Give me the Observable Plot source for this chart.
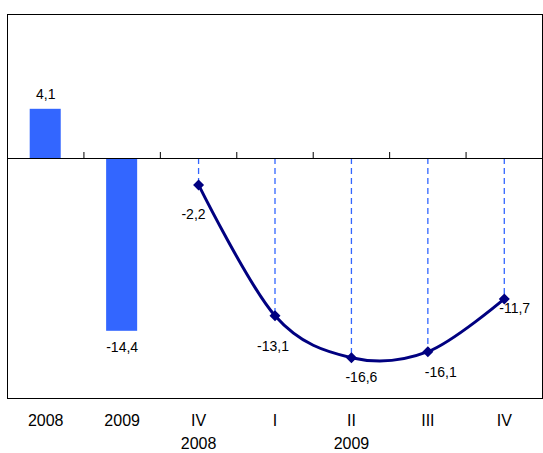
<!DOCTYPE html>
<html>
<head>
<meta charset="utf-8">
<script src="https://cdn.jsdelivr.net/npm/d3@7"></script>
<script src="https://cdn.jsdelivr.net/npm/@observablehq/plot@0.6"></script>
<style>
  html, body { margin: 0; padding: 0; background: #fff; }
  #chart { width: 543px; height: 453px; }
</style>
</head>
<body>
<div id="chart"></div>
<script>
// Data
const categories = ["2008", "2009", "IV", "I", "II", "III", "IV"];
const yearLabels = ["", "", "2008", "", "2009", "", ""];
const annualValues = [4.1, -14.4];
const quarterValues = [-2.2, -13.1, -16.6, -16.1, -11.7];

const bars = annualValues.map((v, i) => ({ i, v }));
const quarters = quarterValues.map((v, k) => ({ i: k + annualValues.length, v, k }));
const boundaries = d3.range(1, categories.length).map(i => i - 0.5);
const fmt = v => v.toFixed(1).replace(".", ",");

const barColor = "#3366ff";
const lineColor = "#000080";
const font = "Arial, 'Liberation Sans', sans-serif";

// label offsets (styling, in pixels)
const qLabelStyle = [
  { textAnchor: "end", dx: 7, dy: 30 },
  { textAnchor: "middle", dx: -2, dy: 31 },
  { textAnchor: "start", dx: -6, dy: 20 },
  { textAnchor: "start", dx: -3, dy: 21 },
  { textAnchor: "start", dx: -5, dy: 10 }
];

const labelMarks = [
  Plot.text(bars.filter(d => d.v >= 0), { x: "i", y: "v", text: d => fmt(d.v), dy: -15, fontSize: 14, fill: "black" }),
  Plot.text(bars.filter(d => d.v < 0), { x: "i", y: "v", text: d => fmt(d.v), dy: 16, fontSize: 14, fill: "black" }),
  ...qLabelStyle.map((s, k) =>
    Plot.text(quarters.filter(d => d.k === k), { x: "i", y: "v", text: d => fmt(d.v), fontSize: 14, fill: "black", ...s })
  )
];

const chart = Plot.plot({
  width: 543,
  height: 453,
  marginLeft: 7,
  marginRight: 1,
  marginTop: 14,
  marginBottom: 55,
  x: { type: "linear", domain: [-0.5, categories.length - 0.5], axis: null },
  y: { domain: [-20, 12], axis: null },
  style: { fontFamily: font, background: "white", overflow: "visible" },
  marks: [
    Plot.rect(bars, { x1: d => d.i - 0.203, x2: d => d.i + 0.203, y1: 0, y2: "v", fill: barColor }),
    Plot.ruleX(quarters, { x: "i", y1: 0, y2: "v", stroke: barColor, strokeDasharray: "6,4", strokeWidth: 1.3 }),
    Plot.ruleY([0], { stroke: "black", strokeWidth: 1 }),
    Plot.ruleX(boundaries, { x: d => d, y1: 0, y2: 0.5, stroke: "black", strokeWidth: 1 }),
    Plot.line(quarters, { x: "i", y: "v", curve: "cardinal", stroke: lineColor, strokeWidth: 3 }),
    Plot.dot(quarters, { x: "i", y: "v", symbol: "diamond2", fill: lineColor, stroke: lineColor, r: 4 }),
    ...labelMarks,
    Plot.frame({ stroke: "black", strokeWidth: 1 }),
    Plot.axisX(categories.map((c, i) => i), {
      tickFormat: i => categories[i], tickSize: 0, tickPadding: 16, fontSize: 16, anchor: "bottom", label: null
    }),
    Plot.axisX(yearLabels.map((c, i) => i).filter(i => yearLabels[i] !== ""), {
      tickFormat: i => yearLabels[i], tickSize: 0, tickPadding: 39, fontSize: 16, anchor: "bottom", label: null
    })
  ]
});

document.getElementById("chart").appendChild(chart);
</script>
</body>
</html>
